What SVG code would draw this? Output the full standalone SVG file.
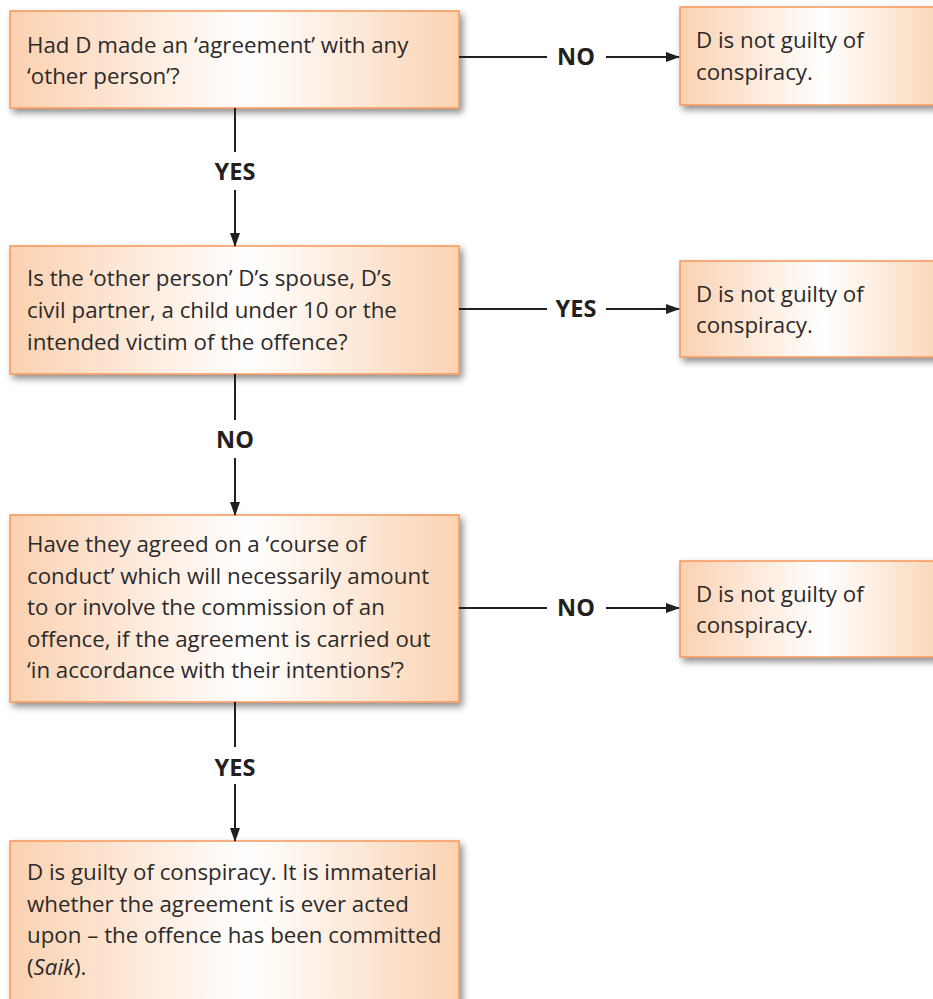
<svg xmlns="http://www.w3.org/2000/svg" width="933" height="999" viewBox="0 0 933 999">
<defs>
<linearGradient id="g" x1="0" y1="0" x2="1" y2="0">
<stop offset="0" stop-color="#fbd1b0"/>
<stop offset="0.53" stop-color="#ffffff"/>
<stop offset="1" stop-color="#fbd3b2"/>
</linearGradient>
<filter id="sh" x="-10%" y="-20%" width="130%" height="150%">
<feDropShadow dx="3" dy="4" stdDeviation="3.5" flood-color="#000" flood-opacity="0.45"/>
</filter>
<marker id="ah" markerWidth="14" markerHeight="10" refX="13" refY="5" orient="auto" markerUnits="userSpaceOnUse">
<path d="M0,0 L14,5 L0,10 Z" fill="#231f20"/>
</marker>
<style>
.box{fill:url(#g);stroke:#f7965a;stroke-width:1.5;filter:url(#sh)}
.t{font-family:"Open Sans","Noto Sans",sans-serif;font-size:22.3px;fill:#2b2a2a}
.lb{font-family:"Open Sans","Noto Sans",sans-serif;font-size:23.5px;font-weight:bold;fill:#231f20;text-anchor:middle}
.c{stroke:#231f20;stroke-width:2;fill:none}
</style>
</defs>
<g id="q1">
<rect class="box" x="10" y="11" width="449" height="97"/>
<text class="t" x="27" y="53">Had D made an ‘agreement’ with any</text>
<text class="t" x="27" y="84">‘other person’?</text>
</g>
<g id="r1">
<rect class="box" x="680" y="7" width="270" height="98"/>
<text class="t" x="696" y="48">D is not guilty of</text>
<text class="t" x="696" y="80">conspiracy.</text>
</g>
<g id="q2">
<rect class="box" x="10" y="246" width="449" height="128"/>
<text class="t" x="27" y="286">Is the ‘other person’ D’s spouse, D’s</text>
<text class="t" x="27" y="318">civil partner, a child under 10 or the</text>
<text class="t" x="27" y="350">intended victim of the offence?</text>
</g>
<g id="r2">
<rect class="box" x="680" y="261" width="270" height="96"/>
<text class="t" x="696" y="302">D is not guilty of</text>
<text class="t" x="696" y="333">conspiracy.</text>
</g>
<g id="q3">
<rect class="box" x="10" y="515" width="449" height="187"/>
<text class="t" x="27" y="552">Have they agreed on a ‘course of</text>
<text class="t" x="27" y="584">conduct’ which will necessarily amount</text>
<text class="t" x="27" y="615">to or involve the commission of an</text>
<text class="t" x="27" y="647">offence, if the agreement is carried out</text>
<text class="t" x="27" y="678">‘in accordance with their intentions’?</text>
</g>
<g id="r3">
<rect class="box" x="680" y="561" width="270" height="96"/>
<text class="t" x="696" y="602">D is not guilty of</text>
<text class="t" x="696" y="633">conspiracy.</text>
</g>
<g id="res">
<rect class="box" x="10" y="841" width="449" height="180"/>
<text class="t" x="27" y="880">D is guilty of conspiracy. It is immaterial</text>
<text class="t" x="27" y="912">whether the agreement is ever acted</text>
<text class="t" x="27" y="943">upon – the offence has been committed</text>
<text class="t" x="27" y="975">(<tspan font-style="italic">Saik</tspan>).</text>
</g>
<g id="connectors">
<line class="c" x1="459" y1="57" x2="547" y2="57"/>
<line class="c" x1="606" y1="57" x2="679" y2="57" marker-end="url(#ah)"/>
<text class="lb" x="576" y="65">NO</text>
<line class="c" x1="459" y1="309" x2="547" y2="309"/>
<line class="c" x1="606" y1="309" x2="679" y2="309" marker-end="url(#ah)"/>
<text class="lb" x="576" y="317">YES</text>
<line class="c" x1="459" y1="608" x2="547" y2="608"/>
<line class="c" x1="606" y1="608" x2="679" y2="608" marker-end="url(#ah)"/>
<text class="lb" x="576" y="616">NO</text>
<line class="c" x1="235" y1="108" x2="235" y2="152"/>
<line class="c" x1="235" y1="190" x2="235" y2="246" marker-end="url(#ah)"/>
<text class="lb" x="235" y="180">YES</text>
<line class="c" x1="235" y1="374" x2="235" y2="420"/>
<line class="c" x1="235" y1="458" x2="235" y2="515" marker-end="url(#ah)"/>
<text class="lb" x="235" y="448">NO</text>
<line class="c" x1="235" y1="702" x2="235" y2="747"/>
<line class="c" x1="235" y1="784" x2="235" y2="841" marker-end="url(#ah)"/>
<text class="lb" x="235" y="776">YES</text>
</g>
</svg>
